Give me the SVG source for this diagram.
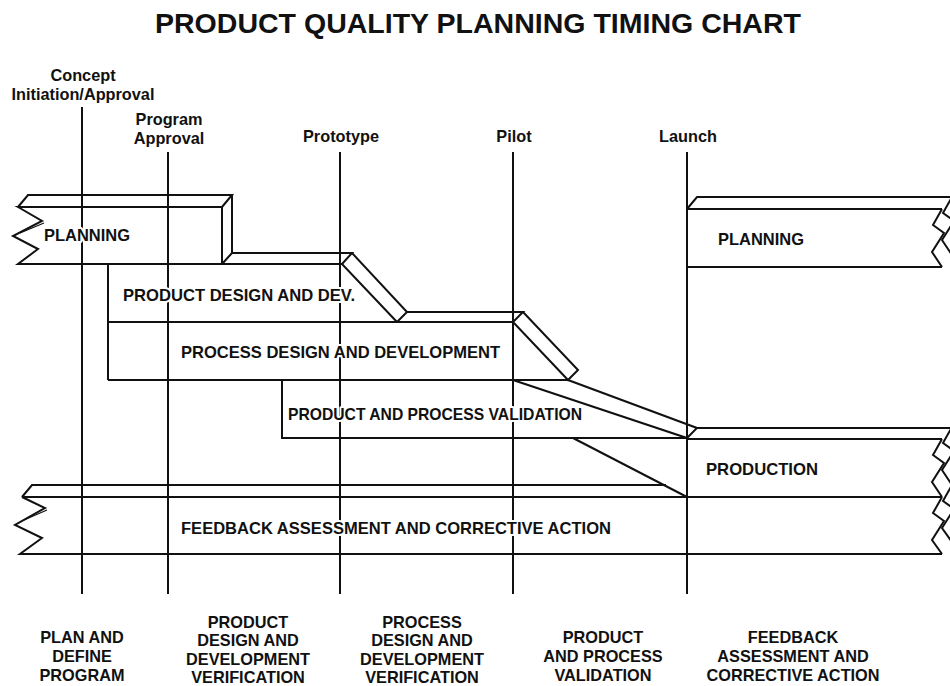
<svg xmlns="http://www.w3.org/2000/svg" width="950" height="686" viewBox="0 0 950 686">
<style>
  .ln { fill: none; stroke: #111; stroke-width: 2; stroke-linejoin: miter; stroke-linecap: butt; }
  .thin { fill: none; stroke: #111; stroke-width: 1.2; }
  .ms { fill: none; stroke: #111; stroke-width: 2; }
  text { font-family: "Liberation Sans", Arial, Helvetica, sans-serif; font-weight: bold; fill: #111; }
  .t { font-size: 16.3px; }
  .lbl { font-size: 16.3px; stroke: #fff; stroke-width: 4; paint-order: stroke; stroke-linejoin: round; }
  .mid { text-anchor: middle; }
  .title { font-size: 28px; }
</style>
<rect width="950" height="686" fill="#fff"/>
<text class="title" x="155" y="33" textLength="646" lengthAdjust="spacingAndGlyphs">PRODUCT QUALITY PLANNING TIMING CHART</text>

<g id="bar-planning-left">
  <path class="ln" d="M18,207 L42,221 L13,236 L38,249 L18,264 L222,264 L222,207 Z"/>
  <path class="ln" d="M18,207 L28,195 L232,195 L222,207"/>
  <path class="ln" d="M232,195 L232,253"/>
  <path class="thin" d="M44,223 L20,233"/>
</g>

<g id="bar-product-design">
  <path class="ln" d="M222,264 L342,264 L397,322"/>
  <path class="ln" d="M222,264 L232,253 L352,253 L342,264"/>
  <path class="ln" d="M352,253 L407,312 L397,322"/>
  <path class="ln" d="M108,264 L108,380"/>
  <path class="ln" d="M108,322 L513,322"/>
</g>

<g id="bar-process-design">
  <path class="ln" d="M407,312 L523,312 L513,322 L568,380 L578,370 L523,312"/>
  <path class="ln" d="M108,380 L568,380"/>
</g>

<g id="bar-validation">
  <path class="ln" d="M282,380 L282,438 L687,438"/>
  <path class="ln" d="M513,380 L687,438 L697,428 L568,380"/>
  <path class="ln" d="M573,438 L687,497"/>
</g>

<g id="bar-planning-right">
  <path class="ln" d="M687,209 L697,197 L950,197"/>
  <path class="ln" d="M687,209 L942,209"/>
  <path class="ln" d="M687,267 L942,267"/>
  <path class="ln" d="M942,209 L933,225 L944,233 L932,252 L942,267"/>
  <path class="ln" d="M952,197 L943,213 L954,221 L942,240 L952,255"/>
</g>

<g id="bar-production">
  <path class="ln" d="M697,428 L950,428"/>
  <path class="ln" d="M687,439 L942,439"/>
  <path class="ln" d="M942,439 L933,455 L944,463 L932,482 L942,497"/>
  <path class="ln" d="M952,427 L943,443 L954,451 L942,470 L952,485"/>
</g>

<g id="bar-feedback">
  <path class="ln" d="M22,497 L32,485 L666,485"/>
  <path class="ln" d="M22,497 L45,508 L15,525 L42,538 L20,554 L942,554"/>
  <path class="ln" d="M22,497 L942,497"/>
  <path class="thin" d="M47,510 L24,520"/>
  <path class="ln" d="M942,497 L933,513 L944,521 L932,540 L942,554"/>
  <path class="ln" d="M952,485 L943,501 L954,509 L942,528 L952,542"/>
</g>

<g id="connectors">
  <line class="ms" x1="82" y1="107" x2="82" y2="594"/>
  <line class="ms" x1="168" y1="152" x2="168" y2="594"/>
  <line class="ms" x1="340" y1="152" x2="340" y2="594"/>
  <line class="ms" x1="513" y1="152" x2="513" y2="594"/>
  <line class="ms" x1="687" y1="152" x2="687" y2="594"/>
</g>

<g id="milestone-labels">
  <text class="t mid" x="83" y="81">Concept</text>
  <text class="t mid" x="83" y="100">Initiation/Approval</text>
  <text class="t mid" x="169" y="125">Program</text>
  <text class="t mid" x="169" y="144">Approval</text>
  <text class="t mid" x="341" y="142">Prototype</text>
  <text class="t mid" x="514" y="142">Pilot</text>
  <text class="t mid" x="688" y="142">Launch</text>
</g>

<g id="bar-labels">
  <text class="lbl" x="44" y="241" textLength="86" lengthAdjust="spacingAndGlyphs">PLANNING</text>
  <text class="lbl" x="123" y="301" textLength="232" lengthAdjust="spacingAndGlyphs">PRODUCT DESIGN AND DEV.</text>
  <text class="lbl" x="181" y="358" textLength="319" lengthAdjust="spacingAndGlyphs">PROCESS DESIGN AND DEVELOPMENT</text>
  <text class="lbl" x="288" y="420" textLength="294" lengthAdjust="spacingAndGlyphs">PRODUCT AND PROCESS VALIDATION</text>
  <text class="lbl" x="718" y="245" textLength="86" lengthAdjust="spacingAndGlyphs">PLANNING</text>
  <text class="lbl" x="706" y="475" textLength="112" lengthAdjust="spacingAndGlyphs">PRODUCTION</text>
  <text class="lbl" x="181" y="534" textLength="430" lengthAdjust="spacingAndGlyphs">FEEDBACK ASSESSMENT AND CORRECTIVE ACTION</text>
</g>

<g id="phase-labels">
  <text class="t mid" x="82" y="643">PLAN AND</text>
  <text class="t mid" x="82" y="662">DEFINE</text>
  <text class="t mid" x="82" y="681">PROGRAM</text>
  <text class="t mid" x="248" y="628">PRODUCT</text>
  <text class="t mid" x="248" y="646">DESIGN AND</text>
  <text class="t mid" x="248" y="665">DEVELOPMENT</text>
  <text class="t mid" x="248" y="683">VERIFICATION</text>
  <text class="t mid" x="422" y="628">PROCESS</text>
  <text class="t mid" x="422" y="646">DESIGN AND</text>
  <text class="t mid" x="422" y="665">DEVELOPMENT</text>
  <text class="t mid" x="422" y="683">VERIFICATION</text>
  <text class="t mid" x="603" y="643">PRODUCT</text>
  <text class="t mid" x="603" y="662">AND PROCESS</text>
  <text class="t mid" x="603" y="681">VALIDATION</text>
  <text class="t mid" x="793" y="643">FEEDBACK</text>
  <text class="t mid" x="793" y="662">ASSESSMENT AND</text>
  <text class="t mid" x="793" y="681">CORRECTIVE ACTION</text>
</g>
</svg>
